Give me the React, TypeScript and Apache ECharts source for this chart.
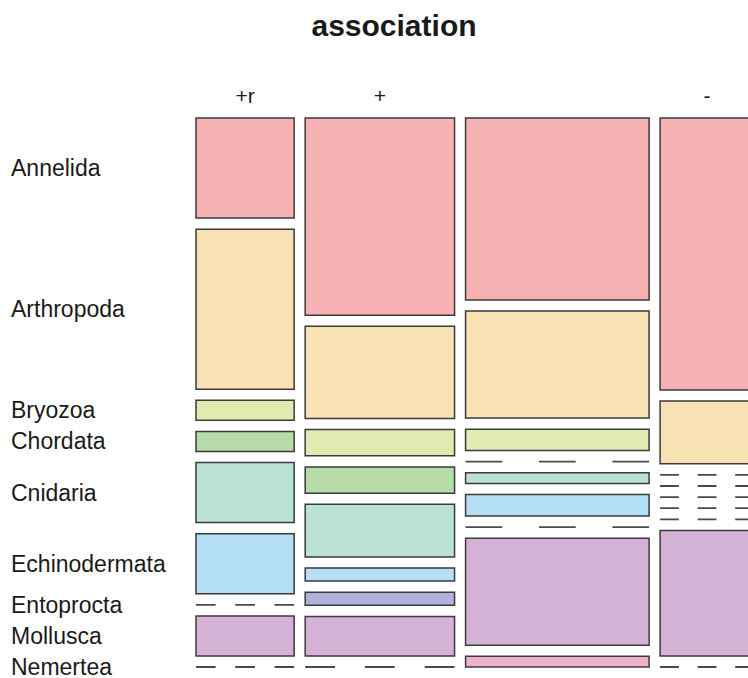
import React, { useEffect, useRef } from "react";
import * as echarts from "echarts";

const rowNames = ["Annelida", "Arthropoda", "Bryozoa", "Chordata", "Cnidaria", "Echinodermata", "Entoprocta", "Mollusca", "Nemertea"];
const colNames = ["+r", "+", "", "-"];
const colPlusR = [5, 8, 1, 1, 3, 3, 0, 2, 0];
const colPlus = [15, 7, 2, 2, 4, 1, 1, 3, 0];
const colBlank = [17, 10, 2, 0, 1, 2, 0, 10, 1];
const colMinus = [13, 3, 0, 0, 0, 0, 0, 6, 0];
const rowColors = ["#F6B1B3", "#F8E2B4", "#E0EBB1", "#B7DCA8", "#BBE2D6", "#B4DFF4", "#B2B1DA", "#D3B2D5", "#EEB2CF"];

const columns = [colPlusR, colPlus, colBlank, colMinus];
const X_GAP = 2.58; // gap between columns in count units
const Y_GAP = 0.0241; // gap between rows in proportion units

function buildCells() {
  const cells: number[][] = [];
  let xc = 0;
  columns.forEach((vals, c) => {
    const T = vals.reduce((a, b) => a + b, 0);
    const x0 = xc;
    const x1 = xc + T;
    let yc = 0;
    vals.forEach((v, r) => {
      const h = v / T;
      cells.push([c, r, x0, x1, yc, yc + h, v]);
      yc = yc + h + Y_GAP;
    });
    xc = x1 + X_GAP;
  });
  return cells;
}

export default function App() {
  const ref = useRef<HTMLDivElement>(null);
  useEffect(() => {
    if (!ref.current) return;
    const chart = echarts.init(ref.current, null, { renderer: "svg" });
    const total = columns.reduce((s, v) => s + v.reduce((a, b) => a + b, 0), 0);
    const fullX = total + X_GAP * (columns.length - 1);
    // the plot runs 558px wide from x=196, past the 748px page edge;
    // the visible grid is 552px, so the axis max is the value at the page edge
    const plotLeft = 196;
    const plotWidth = 558;
    const visibleWidth = 748 - plotLeft;
    const xMax = (fullX * visibleWidth) / plotWidth;
    const yMax = 1 + Y_GAP * (rowNames.length - 1);
    const cells = buildCells();
    const font = "'Liberation Sans', Arial, sans-serif";
    chart.setOption({
      animation: false,
      backgroundColor: "#ffffff",
      graphic: [
        {
          type: "text",
          x: 394,
          y: 25,
          style: {
            text: "association",
            fill: "#1a1a1a",
            font: `bold 30px ${font}`,
            textAlign: "center",
            textVerticalAlign: "middle",
          },
        },
      ],
      grid: { left: plotLeft, top: 118, width: visibleWidth, height: 549 },
      xAxis: { type: "value", min: 0, max: xMax, show: false },
      yAxis: { type: "value", min: 0, max: yMax, inverse: true, show: false },
      series: [
        {
          type: "custom",
          silent: true,
          clip: false,
          encode: { x: [2, 3], y: [4, 5] },
          data: cells,
          renderItem: (params: any, api: any) => {
            const c = api.value(0);
            const r = api.value(1);
            const x0 = api.value(2);
            const x1 = api.value(3);
            const y0 = api.value(4);
            const y1 = api.value(5);
            const v = api.value(6);
            const p0 = api.coord([x0, y0]);
            const p1 = api.coord([x1, y1]);
            const w = p1[0] - p0[0];
            const children: any[] = [];
            if (v > 0) {
              children.push({
                type: "rect",
                shape: { x: p0[0], y: p0[1], width: w, height: p1[1] - p0[1] },
                style: { fill: rowColors[r], stroke: "#3c3a3a", lineWidth: 1.5 },
              });
            } else {
              children.push({
                type: "line",
                shape: { x1: p0[0], y1: p0[1], x2: p1[0], y2: p0[1] },
                style: { stroke: "#4a4a4a", lineWidth: 1.8, lineDash: [w / 5, w / 5] },
              });
            }
            if (c === 0) {
              children.push({
                type: "text",
                x: 11,
                y: (p0[1] + p1[1]) / 2,
                style: {
                  text: rowNames[r],
                  fill: "#1a1a1a",
                  font: `23px ${font}`,
                  textAlign: "left",
                  textVerticalAlign: "middle",
                },
              });
            }
            if (r === 0) {
              children.push({
                type: "text",
                x: (p0[0] + p1[0]) / 2,
                y: 95,
                style: {
                  text: colNames[c],
                  fill: "#1a1a1a",
                  font: `21px ${font}`,
                  textAlign: "center",
                  textVerticalAlign: "middle",
                },
              });
            }
            return { type: "group", children };
          },
        },
      ],
    });
    return () => chart.dispose();
  }, []);
  return (
    <div
      ref={ref}
      style={{ position: "fixed", left: 0, top: 0, width: 748, height: 678, background: "#fff" }}
    />
  );
}
